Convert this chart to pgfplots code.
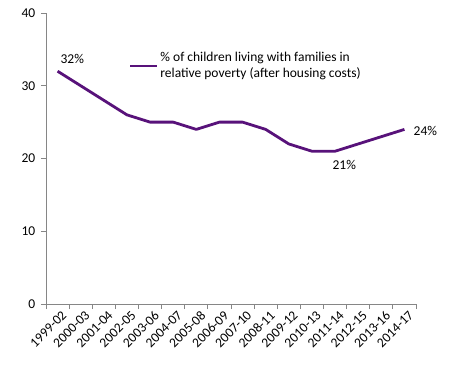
\documentclass[border=0pt]{standalone}
\usepackage{fontspec}
\setmainfont{Carlito}
\usepackage{pgfplots}
\pgfplotsset{compat=1.18}
\definecolor{lineP}{RGB}{88,18,122}
\definecolor{axgrey}{RGB}{134,134,134}
\begin{document}
\fontsize{13.5bp}{16.5bp}\selectfont
\begin{tikzpicture}
\begin{axis}[
  scale only axis,
  width=370bp, height=291bp,
  xmin=-0.5, xmax=15.5,
  ymin=0, ymax=40,
  ytick={0,10,20,30,40},
  xtick={-0.5,0.5,...,15.5},
  x tick label as interval,
  xticklabels={1999-02,2000-03,2001-04,2002-05,2003-06,2004-07,2005-08,2006-09,2007-10,2008-11,2009-12,2010-13,2011-14,2012-15,2013-16,2014-17},
  x tick label style={rotate=45, anchor=north east, inner sep=1pt, xshift=3bp, yshift=-2bp},
  major tick length=5bp,
  tick style={axgrey, line width=0.8pt},
  tick align=outside,
  axis lines*=left,
  axis line style={axgrey, line width=0.8pt},
  y tick label style={/pgf/number format/assume math mode=true, xshift=-1bp},
  tick label style={font=\fontsize{13.5bp}{16bp}\selectfont, text=black},
  legend style={draw=none, fill=none, at={(0.215,0.88)}, anchor=north west, font=\fontsize{13.5bp}{16.5bp}\selectfont, nodes={align=left}},
  legend cell align=left,
  legend image code/.code={\draw[#1, line width=2.8bp] (0cm,0cm) -- (0.95cm,0cm);},
  clip=false,
]
\addplot[lineP, line width=2.8bp, line join=round] coordinates {
(0,32) (1,30) (2,28) (3,26) (4,25) (5,25) (6,24) (7,25) (8,25) (9,24) (10,22) (11,21) (12,21) (13,22) (14,23) (15,24)
};
\addlegendentry{\% of children living with families in\\relative poverty (after housing costs)}
\node[anchor=south west, inner sep=1pt] at (axis cs:0.08,32.9) {32\%};
\node[anchor=north, inner sep=1pt] at (axis cs:12.4,19.9) {21\%};
\node[anchor=west, inner sep=1pt] at (axis cs:15.35,23.8) {24\%};
\path[use as bounding box] (rel axis cs:0,0) ++(-46bp,-80bp) rectangle ++(464bp,384bp);
\end{axis}
\end{tikzpicture}
\end{document}
